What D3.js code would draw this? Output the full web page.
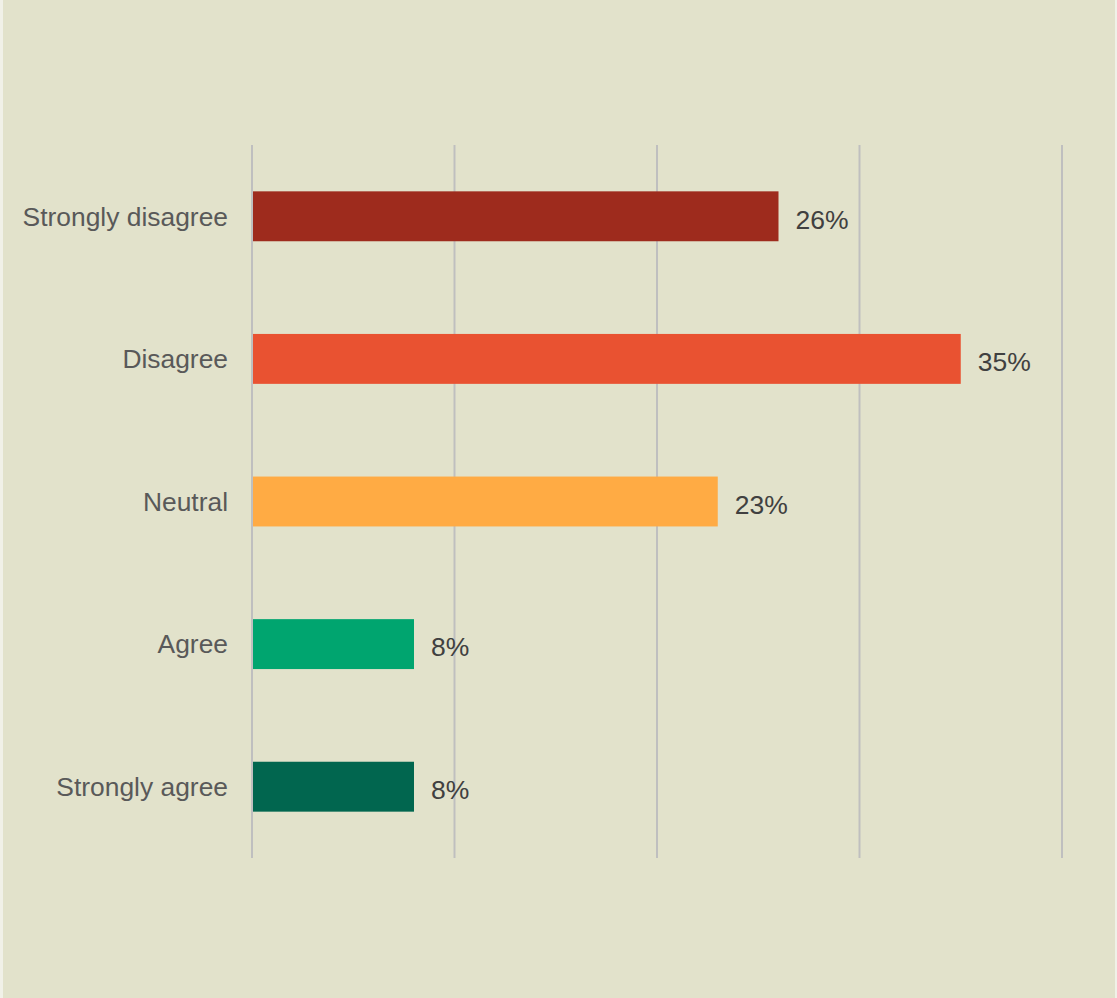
<!DOCTYPE html>
<html>
<head>
<meta charset="utf-8">
<script src="https://cdn.jsdelivr.net/npm/d3@7/dist/d3.min.js"></script>
<style>
  html, body { margin: 0; padding: 0; background: #F1F1E8; }
  svg { display: block; font-family: "Liberation Sans", Arial, sans-serif; }
</style>
</head>
<body>
<svg id="chart" width="1117" height="998"></svg>
<script>
// Survey responses, share of respondents (%)
const categories = ["Strongly disagree", "Disagree", "Neutral", "Agree", "Strongly agree"];
const values = [26, 35, 23, 8, 8];
const barColors = ["#9E2B1D", "#E95231", "#FFAB44", "#00A56F", "#01664F"];
const gridTicks = [0, 10, 20, 30, 40];

const W = 1117, H = 998;
const margin = { top: 145, right: 55, bottom: 140, left: 252 };

const svg = d3.select("#chart");

// panel background with the thin light frame on the sides
svg.append("rect").attr("x", 0).attr("y", 0).attr("width", W).attr("height", H).attr("fill", "#F1F1E8");
svg.append("rect").attr("x", 3).attr("y", 0).attr("width", W - 5).attr("height", H).attr("fill", "#E2E2CB");

const x = d3.scaleLinear().domain([0, 40]).range([margin.left, W - margin.right]);
const y = d3.scaleBand()
  .domain(categories)
  .range([margin.top, H - margin.bottom])
  .paddingInner(0.65)
  .paddingOuter(0.325);

// vertical gridlines
svg.append("g")
  .selectAll("line")
  .data(gridTicks)
  .join("line")
  .attr("x1", d => x(d)).attr("x2", d => x(d))
  .attr("y1", margin.top).attr("y2", H - margin.bottom)
  .attr("stroke", "#BFBFBF")
  .attr("stroke-width", 2);

// bars
svg.append("g")
  .selectAll("rect")
  .data(categories)
  .join("rect")
  .attr("x", x(0) + 1)
  .attr("y", d => y(d))
  .attr("width", (d, i) => x(values[i]) - x(0) - 1)
  .attr("height", y.bandwidth())
  .attr("fill", (d, i) => barColors[i]);

// category labels
const yAxis = d3.axisLeft(y).tickSize(0).tickPadding(24);
const gy = svg.append("g").attr("transform", `translate(${x(0)},0)`).call(yAxis);
gy.select(".domain").remove();
gy.selectAll("text")
  .attr("font-size", 26.4)
  .attr("font-family", "'Liberation Sans', Arial, sans-serif")
  .attr("fill", "#595959")
  .attr("dy", "0.35em");

// value labels
svg.append("g")
  .selectAll("text")
  .data(categories)
  .join("text")
  .attr("x", (d, i) => x(values[i]) + 17)
  .attr("y", d => y(d) + y.bandwidth() / 2 + 3)
  .attr("dy", "0.35em")
  .attr("font-size", 26.5)
  .attr("fill", "#404040")
  .text((d, i) => values[i] + "%");
</script>
</body>
</html>
